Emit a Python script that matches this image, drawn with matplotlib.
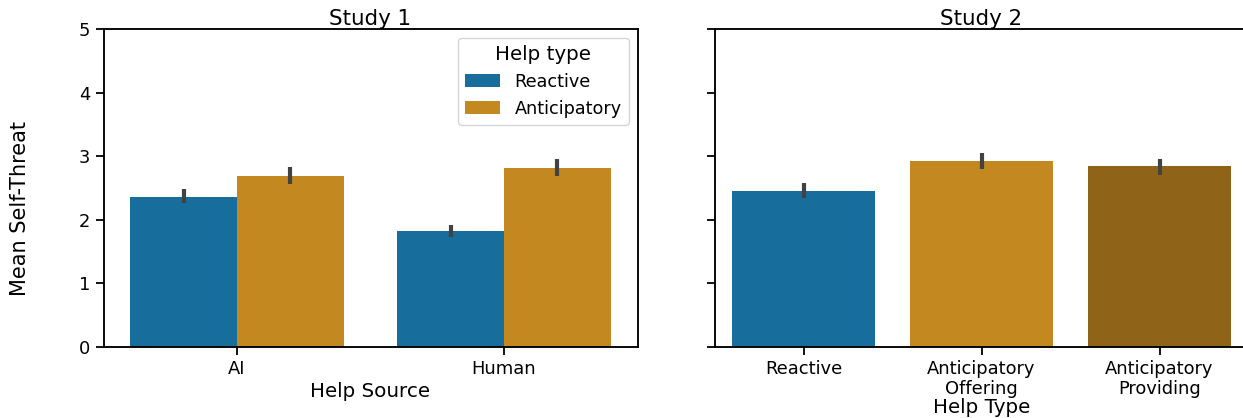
import matplotlib.pyplot as plt
import numpy as np

# Study 1: help source x help type
sources = ["AI", "Human"]
hue_levels = ["Reactive", "Anticipatory"]
s1_means = {"Reactive": [2.36, 1.82], "Anticipatory": [2.69, 2.82]}
s1_lo = {"Reactive": [2.26, 1.73], "Anticipatory": [2.56, 2.69]}
s1_hi = {"Reactive": [2.48, 1.92], "Anticipatory": [2.83, 2.95]}

# Study 2: help type
s2_types = ["Reactive", "Anticipatory\nOffering", "Anticipatory\nProviding"]
s2_means = [2.46, 2.92, 2.84]
s2_lo = [2.35, 2.80, 2.71]
s2_hi = [2.58, 3.05, 2.96]

blue = "#176d9c"
orange = "#c38820"
brown = "#906418"
hue_colors = {"Reactive": blue, "Anticipatory": orange}
err_color = "#424242"

plt.rcParams["font.family"] = "DejaVu Sans"
tick_fs = 12.9
legend_fs = 12.7
label_fs = 14.3
title_fs = 15.4

fig = plt.figure(figsize=(12.43, 4.18), dpi=100)
W, H = 1243, 418
ax1 = fig.add_axes([103.5 / W, (H - 347) / H, 534 / W, 318 / H])
ax2 = fig.add_axes([714.5 / W, (H - 347) / H, 534 / W, 318 / H], sharey=ax1)

# left panel
x = np.arange(len(sources))
bw = 0.4
for i, h in enumerate(hue_levels):
    pos = x - 0.2 + i * bw
    m = np.array(s1_means[h])
    ax1.bar(pos, m, width=bw, color=hue_colors[h], label=h, linewidth=0)
    ax1.errorbar(pos, m, yerr=[m - np.array(s1_lo[h]), np.array(s1_hi[h]) - m],
                 fmt="none", ecolor=err_color, elinewidth=3, capsize=0)
ax1.set_xticks(x)
ax1.set_xticklabels(sources)
ax1.set_xlim(-0.5, 1.5)
ax1.set_ylim(0, 5)
ax1.set_xlabel("Help Source", fontsize=label_fs, labelpad=3)
ax1.set_title("Study 1", fontsize=title_fs, pad=3)
leg = ax1.legend(title="Help type", loc="upper right", fontsize=legend_fs,
                 title_fontsize=label_fs, borderaxespad=0.5)

# right panel
x2 = np.arange(len(s2_types))
m2 = np.array(s2_means)
ax2.bar(x2, m2, width=0.8, color=[blue, orange, brown], linewidth=0)
ax2.errorbar(x2, m2, yerr=[m2 - np.array(s2_lo), np.array(s2_hi) - m2],
             fmt="none", ecolor=err_color, elinewidth=3, capsize=0)
ax2.set_xticks(x2)
ax2.set_xticklabels(s2_types, linespacing=1.15)
ax2.set_xlim(-0.5, 2.5)
ax2.set_xlabel("Help Type", fontsize=label_fs, labelpad=0)
ax2.set_title("Study 2", fontsize=title_fs, pad=3)
ax2.tick_params(axis="y", labelleft=False)

for ax in (ax1, ax2):
    ax.tick_params(labelsize=tick_fs, length=6, width=1.3)
    for sp in ax.spines.values():
        sp.set_linewidth(1.35)

fig.supylabel("Mean Self-Threat", x=0.008, fontsize=15)

fig.savefig("out.png", dpi=100)
